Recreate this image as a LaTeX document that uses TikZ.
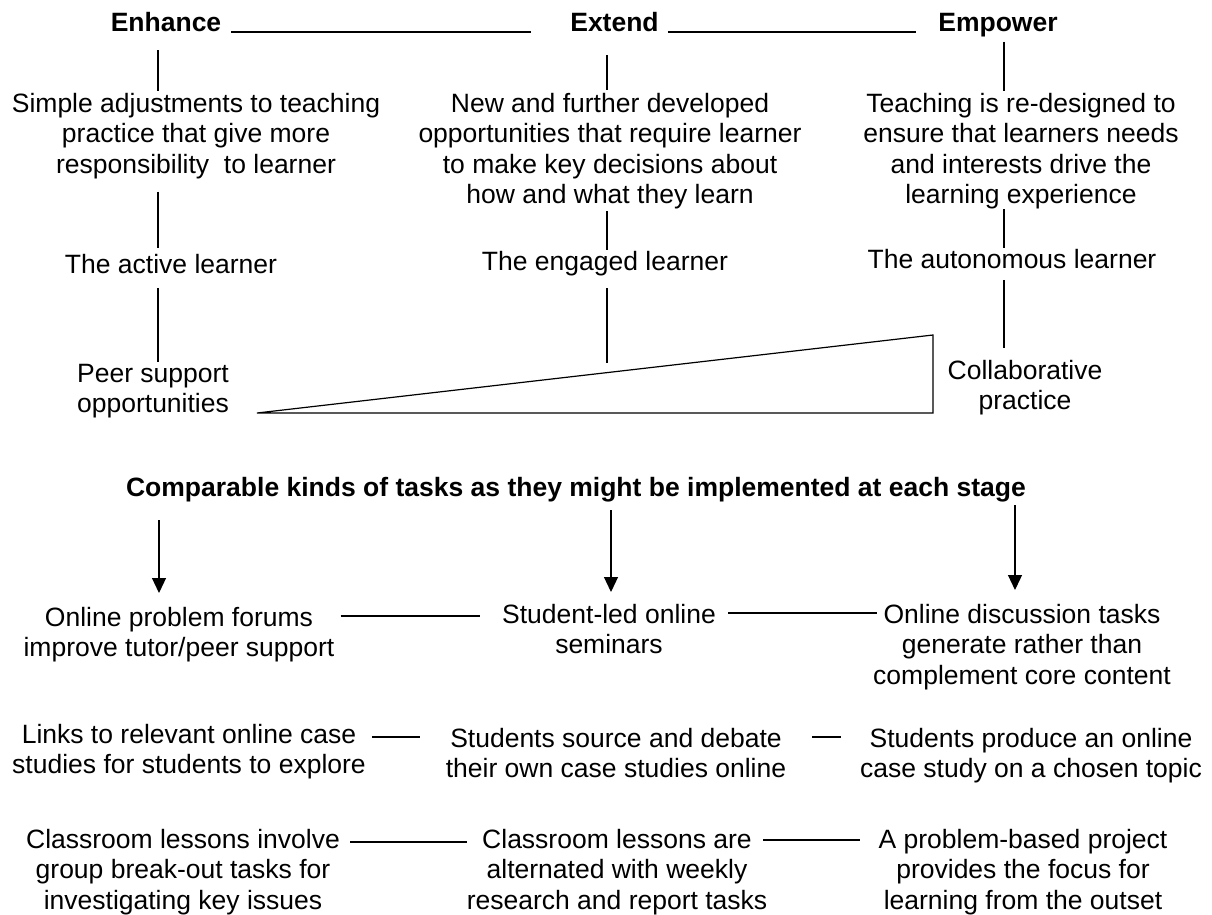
\documentclass[tikz,border=0pt]{standalone}
\usepackage{fontspec}
\setmainfont{Liberation Sans}
\usepackage{tikz}
\usetikzlibrary{positioning,calc,arrows.meta}
\tikzstyle{stage} = [font=\fontsize{26.5}{30.3}\selectfont\bfseries, inner sep=0pt, anchor=base]
\tikzstyle{txt} = [align=center, inner sep=0pt, anchor=north]
\tikzstyle{link} = [line width=1.2pt]
\tikzstyle{rule} = [line width=1.7pt]
\tikzstyle{arrow} = [line width=1.2pt, -{Triangle[width=14pt,length=15pt]}]

\begin{document}
\begin{tikzpicture}[x=1pt, y=-1pt, font=\fontsize{26.5}{30.3}\selectfont]
    \useasboundingbox (0,0) rectangle (1212,915);
    % columns for the vertical links and the arrows
    \coordinate (cA) at (158,0);
    \coordinate (cB) at (607,0);
    \coordinate (cC) at (1004,0);
    \coordinate (aA) at (159,0);
    \coordinate (aB) at (611,0);
    \coordinate (aC) at (1015,0);

    % We start by placing the three stages
    \node [stage] (enh) at (166,32) {Enhance};
    \node [stage] (ext) at (614.5,32) {Extend};
    \node [stage] (emp) at (998,32) {Empower};
    \draw [rule] ($(enh.base east)+(10,0)$) -- ($(ext.base west)+(-39,0)$);
    \draw [rule] ($(ext.base east)+(9,0)$) -- ($(emp.base west)+(-22,0)$);

    \node [txt] (simp) at (196,93) {Simple adjustments to teaching\\practice that give more\\responsibility\ \ to learner};
    \node [txt] (newop) at (610,93) {New and further developed\\opportunities that require learner\\to make key decisions about\\how and what they learn};
    \node [txt] (redes) at (1021,93) {Teaching is re-designed to\\ensure that learners needs\\and interests drive the\\learning experience};

    \node [txt] (act) at (171,254) {The active learner};
    \node [txt] (eng) at (605,251) {The engaged learner};
    \node [txt] (aut) at (1012,249) {The autonomous learner};

    \node [txt] (peer) at (153,364) {Peer support\\opportunities};
    \node [txt] (collab) at (1025,360) {Collaborative\\practice};
    \coordinate (tri) at (607,363);

    \draw [link] ($(enh.south -| cA)+(0,18)$) -- ($(simp.north -| cA)+(0,-2)$);
    \draw [link] ($(ext.south -| cB)+(0,23)$) -- ($(newop.north -| cB)+(0,-3)$);
    \draw [link] ($(emp.south -| cC)+(0,4)$) -- ($(redes.north -| cC)+(0,-2)$);
    \draw [link] ($(simp.south -| cA)+(0,13)$) -- ($(act.north -| cA)+(0,-6)$);
    \draw [link] ($(newop.south -| cB)+(0,2)$) -- ($(eng.north -| cB)+(0,-1)$);
    \draw [link] ($(redes.south -| cC)+(0,0)$) -- ($(aut.north -| cC)+(0,-1)$);
    \draw [link] ($(act.south -| cA)+(0,14)$) -- ($(peer.north -| cA)+(0,-2)$);
    \draw [link] ($(eng.south -| cB)+(0,12)$) -- (tri);
    \draw [link] ($(aut.south -| cC)+(0,11)$) -- ($(collab.north -| cC)+(0,-12)$);

    % the wedge
    \draw [link, line join=miter] (257,413) -- (933,413) -- (933,335) -- cycle;

    \node [stage] (cmp) at (576,496) {Comparable kinds of tasks as they might be implemented at each stage};

    \node [txt] (fo) at (179,607) {Online problem forums\\improve tutor/peer support};
    \node [txt] (sl) at (609,604) {Student-led online\\seminars};
    \node [txt] (od) at (1022,604) {Online discussion tasks\\generate rather than\\complement core content};

    \node [txt] (li) at (189,724) {Links to relevant online case\\studies for students to explore};
    \node [txt] (ss) at (616,728) {Students source and debate\\their own case studies online};
    \node [txt] (sp) at (1031,728) {Students produce an online\\case study on a chosen topic};

    \node [txt] (cl) at (183,829) {Classroom lessons involve\\group break-out tasks for\\investigating key issues};
    \node [txt] (ca) at (617,829) {Classroom lessons are\\alternated with weekly\\research and report tasks};
    \node [txt] (pb) at (1023,829) {A problem-based project\\provides the focus for\\learning from the outset};

    % arrows down to the tasks
    \draw [arrow] ($(cmp.base -| aA)+(0,24)$) -- ($(fo.north -| aA)+(0,-14)$);
    \draw [arrow] ($(cmp.base -| aB)+(0,14)$) -- ($(sl.north -| aB)+(0,-12)$);
    \draw [arrow] ($(cmp.base -| aC)+(0,9)$) -- ($(od.north -| aC)+(0,-14)$);

    % links between the tasks, level with the first line on the left
    \draw [link] ($(fo.north east)+(6,9)$) -- ($(sl.west |- fo.north)+(-22,9)$);
    \draw [link] ($(sl.north east)+(12,9)$) -- ($(od.west |- sl.north)+(4,9)$);
    \draw [link] ($(li.north east)+(6,13)$) -- ($(ss.west |- li.north)+(-26,13)$);
    \draw [link] ($(ss.north east)+(26,9)$) -- ($(sp.west |- ss.north)+(-19,9)$);
    \draw [link] ($(cl.north east)+(10,13)$) -- ($(ca.west |- cl.north)+(0,13)$);
    \draw [link] ($(ca.north east)+(-4,11)$) -- ($(pb.west |- ca.north)+(-18,11)$);
\end{tikzpicture}
\end{document}
